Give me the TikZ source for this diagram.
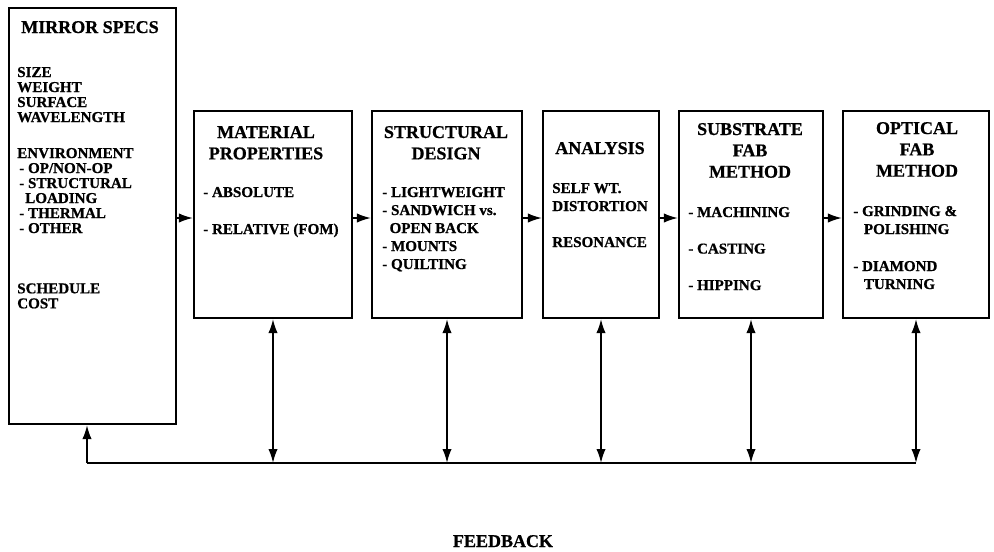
\documentclass[tikz,border=0pt]{standalone}
\usepackage{fontspec}
\setmainfont{Liberation Serif}[BoldFeatures={FakeBold=0.8}]
\usetikzlibrary{fit,arrows.meta}

\newcommand{\itemlist}[1]{\begin{tabular}[t]{@{}l@{}}#1\end{tabular}}
\newcommand{\headlist}[1]{\begin{tabular}[t]{@{}c@{}}#1\end{tabular}}

\tikzset{
	box/.style = {draw, line width=1.6pt, inner sep=0pt},
	head/.style = {anchor=base, inner sep=0pt, font=\bfseries\fontsize{13.5}{16}\selectfont},
	items/.style = {anchor=base west, inner sep=0pt, font=\bfseries\fontsize{11.3}{13.5}\selectfont},
	conn/.style = {line width=1.3pt},
	arr/.style = {conn, -{Latex[length=10.5pt,width=7pt]}},
	dblarr/.style = {conn, {Latex[length=10.5pt,width=7pt]}-{Latex[length=10.5pt,width=7pt]}}
}

\begin{document}
\begin{tikzpicture}[x=0.75pt, y=-0.75pt]
		\useasboundingbox (0,0) rectangle (994,551);
		
		% boxes
		\node[box, fit={(9,8) (176,424)}] (specs) {};
		\node[box, fit={(194,111) (352,318)}] (mat) {};
		\node[box, fit={(372,111) (522,318)}] (str) {};
		\node[box, fit={(543,111) (659,318)}] (ana) {};
		\node[box, fit={(679,111) (823,318)}] (sub) {};
		\node[box, fit={(843,111) (989,318)}] (opt) {};
		
		% mirror specs
		\node[head] (specsT) at (90,33) {MIRROR SPECS};
		\node[items, font=\bfseries\fontsize{11.3}{11.25}\selectfont] (specsL) at (17,77) {\itemlist{SIZE\\ WEIGHT\\ SURFACE\\ WAVELENGTH\\[15.75pt]
			ENVIRONMENT\\ \hspace{1.5pt}- OP/NON-OP\\ \hspace{1.5pt}- STRUCTURAL\\ \hspace{6pt}LOADING\\ \hspace{1.5pt}- THERMAL\\ \hspace{1.5pt}- OTHER\\[34pt]
			SCHEDULE\\ COST}};
		
		% material properties
		\node[head] (matT) at (266,138) {\headlist{MATERIAL\\ PROPERTIES}};
		\node[items] (matL) at (203,197) {\itemlist{- ABSOLUTE\\[14.25pt] - RELATIVE (FOM)}};
		
		% structural design
		\node[head] (strT) at (446,138) {\headlist{STRUCTURAL\\ DESIGN}};
		\node[items] (strL) at (382,197) {\itemlist{- LIGHTWEIGHT\\ - SANDWICH vs.\\ \hspace{5.5pt}OPEN BACK\\ - MOUNTS\\ - QUILTING}};
		
		% analysis
		\node[head] (anaT) at (600,154) {ANALYSIS};
		\node[items] (anaL) at (552,193) {\itemlist{SELF WT.\\ DISTORTION\\[13.5pt] RESONANCE}};
		
		% substrate fab method
		\node[head] (subT) at (750,135) {\headlist{SUBSTRATE\\ FAB\\ METHOD}};
		\node[items] (subL) at (688,217) {\itemlist{- MACHINING\\[13.9pt] - CASTING\\[13.9pt] - HIPPING}};
		
		% optical fab method
		\node[head] (optT) at (917,134) {\headlist{OPTICAL\\ FAB\\ METHOD}};
		\node[items] (optL) at (853,216) {\itemlist{- GRINDING \&\\ \hspace{8pt}POLISHING\\[14.25pt] - DIAMOND\\ \hspace{8pt}TURNING}};
		
		\node[head] (fbT) at (503,547) {FEEDBACK};
		
		% flow arrows
		\coordinate (flow) at (0,218);
		\draw[arr] (specs.east |- flow) -- (mat.west |- flow);
		\draw[arr] (mat.east |- flow) -- (str.west |- flow);
		\draw[arr] (str.east |- flow) -- (ana.west |- flow);
		\draw[arr] (ana.east |- flow) -- (sub.west |- flow);
		\draw[arr] (sub.east |- flow) -- (opt.west |- flow);
		
		% feedback loop
		\coordinate (fb) at (87,463);
		\draw[conn] (fb) -- (opt.south |- fb);
		\draw[arr] (fb) -- (fb |- specs.south);
		\foreach \b in {mat,str,ana,sub,opt}
			\draw[dblarr] (\b.south) -- (\b.south |- fb);
	\end{tikzpicture}
\end{document}
